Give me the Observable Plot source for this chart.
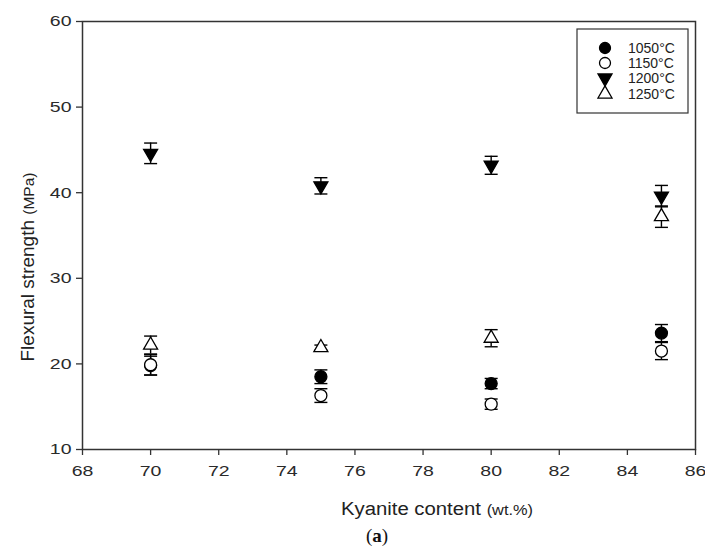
<!DOCTYPE html>
<html>
<head>
<meta charset="utf-8">
<script src="https://cdn.jsdelivr.net/npm/d3@7"></script>
<script src="https://cdn.jsdelivr.net/npm/@observablehq/plot@0.6"></script>
<style>
  html, body { margin: 0; padding: 0; background: #fff; }
  #chart svg { display: block; }
</style>
</head>
<body>
<div id="chart"></div>
<script>
// Kyanite content (wt.%) of each composition
const kyanite = [70, 75, 80, 85];

// Sintering temperatures (series)
const seriesNames = ["1050°C", "1150°C", "1200°C", "1250°C"];

// Flexural strength (MPa), mean and standard deviation per series
const mean1050 = [19.8, 18.5, 17.7, 23.6];
const err1050  = [1.1, 0.8, 0.6, 1.0];
const mean1150 = [19.9, 16.3, 15.3, 21.5];
const err1150  = [1.2, 0.8, 0.6, 1.0];
const mean1200 = [44.6, 40.8, 43.2, 39.6];
const err1200  = [1.2, 0.95, 1.05, 1.25];
const mean1250 = [22.2, 21.9, 23.0, 37.2];
const err1250  = [1.05, 0.3, 1.0, 1.25];

// Axis ticks
const xTicks = [68, 70, 72, 74, 76, 78, 80, 82, 84, 86];
const yTicks = [10, 20, 30, 40, 50, 60];

const means = [mean1050, mean1150, mean1200, mean1250];
const errs = [err1050, err1150, err1200, err1250];

const sans = "'Liberation Sans', Arial, sans-serif";

// Marker style per series
const styles = [
  {symbol: "circle",   fill: "black", rotate: 0},
  {symbol: "circle",   fill: "white", rotate: 0},
  {symbol: "triangle", fill: "black", rotate: 180},
  {symbol: "triangle", fill: "white", rotate: 0}
];

// Horizontal cap used at both ends of each error bar
const capSymbol = {
  draw(context, size) {
    const w = Math.sqrt(size / Math.PI);
    context.moveTo(-w, 0);
    context.lineTo(w, 0);
  }
};

const rows = seriesNames.map((name, s) =>
  kyanite.map((k, i) => ({series: name, s, x: k, y: means[s][i], e: errs[s][i]}))
);

const seriesMarks = rows.flatMap((data, s) => [
  Plot.ruleX(data, {x: "x", y1: d => d.y - d.e, y2: d => d.y + d.e, stroke: "black", strokeWidth: 1.4}),
  Plot.dot(data, {x: "x", y: d => d.y + d.e, symbol: capSymbol, r: 6.5, stroke: "black", strokeWidth: 1.4, fill: "none"}),
  Plot.dot(data, {x: "x", y: d => d.y - d.e, symbol: capSymbol, r: 6.5, stroke: "black", strokeWidth: 1.4, fill: "none"}),
  Plot.dot(data, {
    x: "x", y: "y",
    symbol: styles[s].symbol,
    rotate: styles[s].rotate,
    r: styles[s].symbol === "circle" ? 6 : 5.2,
    fill: styles[s].fill,
    stroke: "black",
    strokeWidth: 1.3
  })
]);

const chart = Plot.plot({
  width: 705,
  height: 554,
  marginLeft: 82,
  marginRight: 10,
  marginTop: 21,
  marginBottom: 105,
  style: {fontFamily: sans, fontSize: "15px", color: "#2a2a2a", background: "#fff"},
  x: {domain: [68, 86]},
  y: {domain: [10, 60]},
  marks: [
    Plot.frame({stroke: "#333", strokeWidth: 1.5}),
    Plot.axisX({ticks: xTicks, tickSize: 6, tickPadding: 10, label: null, stroke: "#333", strokeWidth: 1.3}),
    Plot.axisY({ticks: yTicks, tickSize: 6, tickPadding: 5, label: null, stroke: "#333", strokeWidth: 1.3}),
    ...seriesMarks
  ]
});

document.getElementById("chart").appendChild(chart);

const svg = d3.select(chart);

// Wide tick lettering
svg.selectAll('g[aria-label="x-axis tick label"] text, g[aria-label="y-axis tick label"] text')
  .attr("transform", function() { return (this.getAttribute("transform") || "") + " scale(1.3,1)"; });

// Axis titles
const xTitle = svg.append("text")
  .attr("transform", "translate(437,515) scale(1.13,1)")
  .attr("text-anchor", "middle")
  .attr("fill", "#222")
  .style("font-family", sans);
xTitle.append("tspan").attr("font-size", 18).text("Kyanite content ");
xTitle.append("tspan").attr("font-size", 14.5).text("(wt.%)");

const yTitle = svg.append("text")
  .attr("transform", "translate(34,267) rotate(-90)")
  .attr("text-anchor", "middle")
  .attr("fill", "#222")
  .style("font-family", sans);
yTitle.append("tspan").attr("font-size", 19).text("Flexural strength ");
yTitle.append("tspan").attr("font-size", 15.5).text("(MPa)");

// Legend
const legend = svg.append("g");
legend.append("rect")
  .attr("x", 577).attr("y", 29).attr("width", 111).attr("height", 84)
  .attr("fill", "#fff").attr("stroke", "#333").attr("stroke-width", 1.2);

const legendRows = [48, 63, 78, 94];
seriesNames.forEach((name, s) => {
  const st = styles[s];
  const type = st.symbol === "circle" ? d3.symbolCircle : d3.symbolTriangle;
  const r = st.symbol === "circle" ? 5.5 : 5.2;
  legend.append("path")
    .attr("d", d3.symbol(type, Math.PI * r * r)())
    .attr("transform", `translate(605,${legendRows[s]}) rotate(${st.rotate})`)
    .attr("fill", st.fill).attr("stroke", "black").attr("stroke-width", 1.3);
  legend.append("text")
    .attr("x", 628).attr("y", legendRows[s]).attr("dy", "0.36em")
    .attr("text-anchor", "start")
    .attr("font-size", 14).attr("fill", "#222")
    .style("font-family", sans)
    .text(name);
});

// Panel caption
const caption = svg.append("text")
  .attr("x", 377).attr("y", 542)
  .attr("text-anchor", "middle")
  .attr("font-size", 19).attr("fill", "#111")
  .style("font-family", "'Liberation Serif', 'DejaVu Serif', serif");
caption.append("tspan").text("(");
caption.append("tspan").attr("font-weight", "bold").text("a");
caption.append("tspan").text(")");
</script>
</body>
</html>
